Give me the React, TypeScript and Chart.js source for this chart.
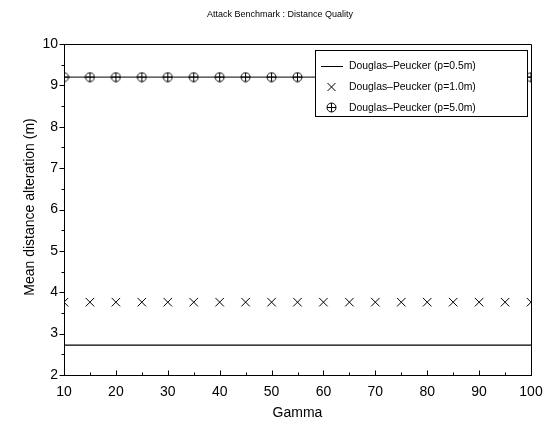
import React, { useEffect, useRef } from "react";
import { Chart, registerables } from "chart.js";

Chart.register(...registerables);

const gamma = [10, 15, 20, 25, 30, 35, 40, 45, 50, 55, 60, 65, 70, 75, 80, 85, 90, 95, 100];
const p05 = [2.72, 2.72, 2.72, 2.72, 2.72, 2.72, 2.72, 2.72, 2.72, 2.72, 2.72, 2.72, 2.72, 2.72, 2.72, 2.72, 2.72, 2.72, 2.72];
const p10 = [3.76, 3.76, 3.76, 3.76, 3.76, 3.76, 3.76, 3.76, 3.76, 3.76, 3.76, 3.76, 3.76, 3.76, 3.76, 3.76, 3.76, 3.76, 3.76];
const p50 = [9.2, 9.2, 9.2, 9.2, 9.2, 9.2, 9.2, 9.2, 9.2, 9.2, 9.2, 9.2, 9.2, 9.2, 9.2, 9.2, 9.2, 9.2, 9.2];
const seriesLabels = ["Douglas\u2013Peucker (p=0.5m)", "Douglas\u2013Peucker (p=1.0m)", "Douglas\u2013Peucker (p=5.0m)"];
const titleText = "Attack Benchmark : Distance Quality";
const xTitle = "Gamma";
const yTitle = "Mean distance alteration (m)";

const FONT = "'Liberation Sans', Arial, sans-serif";

function makeCirclePlus(): HTMLCanvasElement {
  const c = document.createElement("canvas");
  c.width = 11;
  c.height = 11;
  const g = c.getContext("2d")!;
  g.strokeStyle = "#000";
  g.lineWidth = 1;
  g.beginPath();
  g.arc(5.5, 5.5, 4.5, 0, Math.PI * 2);
  g.stroke();
  g.beginPath();
  g.moveTo(5.5, 1);
  g.lineTo(5.5, 10);
  g.moveTo(1, 5.5);
  g.lineTo(10, 5.5);
  g.stroke();
  return c;
}

export default function App() {
  const ref = useRef<HTMLCanvasElement>(null);
  useEffect(() => {
    const cp = makeCirclePlus();
    const toPts = (ys: number[]) => gamma.map((x, i) => ({ x, y: ys[i] }));

    const decor = {
      id: "decor",
      afterDatasetsDraw(chart: any) {
        const ctx = chart.ctx;
        const ca = chart.chartArea;
        const xs = chart.scales.x;
        const ys = chart.scales.y;
        ctx.save();
        ctx.strokeStyle = "#000";
        ctx.lineWidth = 1;
        const top = Math.round(ca.top) + 0.5;
        const right = Math.round(ca.right) + 0.5;
        const left = Math.round(ca.left) + 0.5;
        const bottom = Math.round(ca.bottom) + 0.5;
        ctx.beginPath();
        ctx.moveTo(left, top);
        ctx.lineTo(right, top);
        ctx.lineTo(right, bottom);
        ctx.stroke();
        for (let v = 10; v <= 100; v += 5) {
          const px = Math.round(xs.getPixelForValue(v)) + 0.5;
          const len = v % 10 === 0 ? 5 : 3;
          ctx.beginPath();
          ctx.moveTo(px, bottom);
          ctx.lineTo(px, bottom - len);
          ctx.stroke();
        }
        for (let v = 2; v <= 10; v += 0.5) {
          const py = Math.round(ys.getPixelForValue(v)) + 0.5;
          const len = Number.isInteger(v) ? 5 : 3;
          ctx.beginPath();
          ctx.moveTo(left, py);
          ctx.lineTo(left - len, py);
          ctx.stroke();
        }
        const lx = 315.5, ly = 50.5, lw = 212, lh = 66;
        ctx.fillStyle = "#fff";
        ctx.fillRect(lx, ly, lw, lh);
        ctx.strokeRect(lx, ly, lw, lh);
        ctx.fillStyle = "#000";
        ctx.font = `10.4px ${FONT}`;
        ctx.textBaseline = "middle";
        ctx.textAlign = "left";
        const rows = [66, 87, 108];
        ctx.beginPath();
        ctx.moveTo(321, rows[0] + 0.5);
        ctx.lineTo(343, rows[0] + 0.5);
        ctx.stroke();
        const cx = 331.5, r = 4;
        ctx.beginPath();
        ctx.moveTo(cx - r, rows[1] - r);
        ctx.lineTo(cx + r, rows[1] + r);
        ctx.moveTo(cx + r, rows[1] - r);
        ctx.lineTo(cx - r, rows[1] + r);
        ctx.stroke();
        ctx.drawImage(cp, cx - 5.5, rows[2] - 6);
        seriesLabels.forEach((t, i) => ctx.fillText(t, 349, rows[i]));
        ctx.restore();
      },
      afterDraw(chart: any) {
        const ctx = chart.ctx;
        const ca = chart.chartArea;
        ctx.save();
        ctx.fillStyle = "#000";
        ctx.textAlign = "center";
        ctx.textBaseline = "middle";
        ctx.font = `9px ${FONT}`;
        ctx.fillText(titleText, 280, 15);
        ctx.font = `14px ${FONT}`;
        ctx.fillText(xTitle, (ca.left + ca.right) / 2, 413);
        ctx.translate(30, 207);
        ctx.rotate(-Math.PI / 2);
        ctx.fillText(yTitle, 0, 0);
        ctx.restore();
      },
    };

    const chart = new Chart(ref.current!, {
      type: "line",
      data: {
        datasets: [
          {
            label: seriesLabels[0],
            data: toPts(p05),
            borderColor: "#000",
            borderWidth: 1.3,
            pointRadius: 0,
            clip: 0,
          },
          {
            label: seriesLabels[1],
            data: toPts(p10),
            showLine: false,
            borderColor: "#000",
            borderWidth: 1,
            pointStyle: "crossRot",
            pointRadius: 6,
            pointBorderColor: "#000",
            pointBorderWidth: 1,
            clip: 0,
          },
          {
            label: seriesLabels[2],
            data: toPts(p50),
            borderColor: "#000",
            borderWidth: 1,
            pointStyle: cp,
            pointRadius: 5,
            clip: 0,
          },
        ],
      },
      options: {
        animation: false,
        responsive: false,
        layout: { padding: { top: 44, right: 23, left: 0, bottom: 0 } },
        plugins: {
          legend: { display: false },
          title: { display: false },
          tooltip: { enabled: false },
        },
        scales: {
          x: {
            type: "linear",
            min: 10,
            max: 100,
            grid: { display: false, drawTicks: false },
            border: { display: true, color: "#000", width: 1 },
            ticks: {
              stepSize: 10,
              color: "#000",
              padding: 9,
              font: { family: FONT, size: 14 },
              maxRotation: 0,
            },
            afterFit: (s: any) => {
              s.height = 48;
            },
          },
          y: {
            type: "linear",
            min: 2,
            max: 10,
            grid: { display: false, drawTicks: false },
            border: { display: true, color: "#000", width: 1 },
            ticks: {
              stepSize: 1,
              color: "#000",
              padding: 6,
              font: { family: FONT, size: 14 },
            },
            afterFit: (s: any) => {
              s.width = 64;
            },
          },
        },
      },
      plugins: [decor],
    } as any);
    return () => chart.destroy();
  }, []);

  return (
    <div style={{ position: "fixed", left: 0, top: 0, width: 554, height: 423, background: "#fff" }}>
      <canvas ref={ref} width={554} height={423} style={{ width: 554, height: 423 }} />
    </div>
  );
}
